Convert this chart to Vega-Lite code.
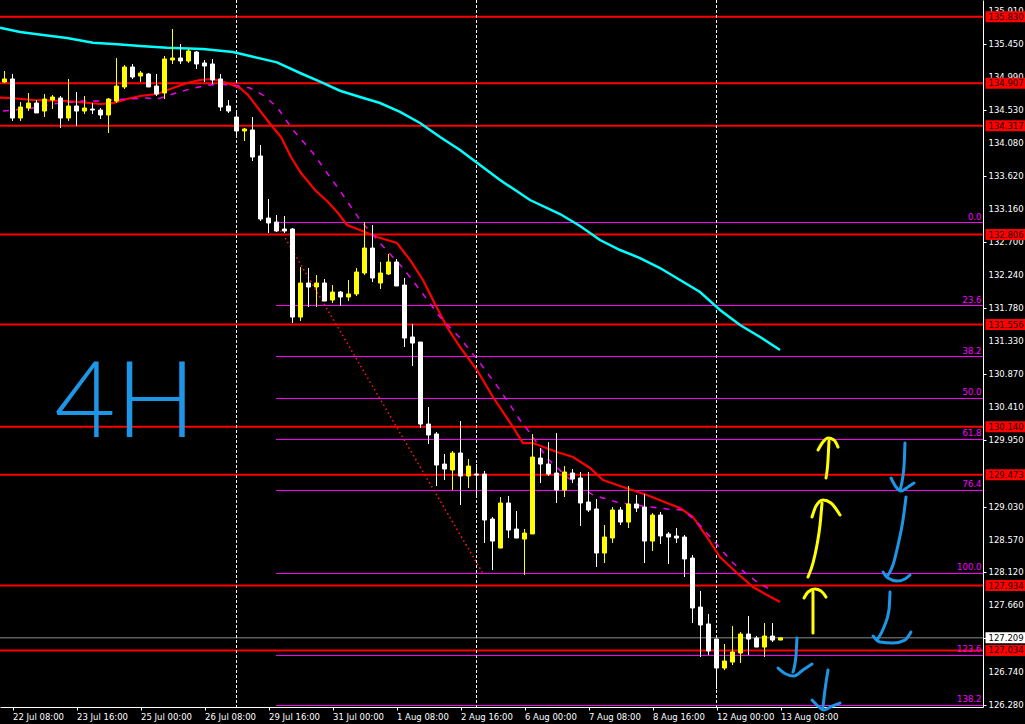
{
  "$schema": "https://vega.github.io/schema/vega-lite/v6.json",
  "width": 983,
  "height": 707,
  "autosize": {"type": "none"},
  "padding": {"left": 0, "top": 0, "right": 42, "bottom": 17},
  "background": "#000000",
  "config": {
    "view": {"stroke": null},
    "scale": {"continuousPadding": 0},
    "axis": {"grid": false, "domainColor": "#ffffff", "tickColor": "#ffffff", "labelColor": "#ffffff", "labelFont": "DejaVu Sans", "labelFontSize": 8.5, "tickSize": 3, "labelPadding": 2, "labelOverlap": false}
  },
  "datasets": {
    "candles": [
      {"k":0,"o":134.923,"h":135.076,"l":134.909,"c":134.965},
      {"k":1,"o":134.965,"h":135.034,"l":134.382,"c":134.423},
      {"k":2,"o":134.423,"h":134.645,"l":134.382,"c":134.576},
      {"k":3,"o":134.562,"h":134.770,"l":134.520,"c":134.631},
      {"k":4,"o":134.631,"h":134.673,"l":134.493,"c":134.493},
      {"k":5,"o":134.520,"h":134.756,"l":134.437,"c":134.687},
      {"k":6,"o":134.673,"h":134.742,"l":134.548,"c":134.715},
      {"k":7,"o":134.701,"h":134.729,"l":134.284,"c":134.423},
      {"k":8,"o":134.423,"h":134.965,"l":134.382,"c":134.590},
      {"k":9,"o":134.590,"h":134.784,"l":134.312,"c":134.520},
      {"k":10,"o":134.520,"h":134.729,"l":134.479,"c":134.562},
      {"k":11,"o":134.548,"h":134.631,"l":134.479,"c":134.534},
      {"k":12,"o":134.534,"h":134.562,"l":134.409,"c":134.465},
      {"k":13,"o":134.465,"h":134.701,"l":134.215,"c":134.687},
      {"k":14,"o":134.659,"h":135.256,"l":134.631,"c":134.867},
      {"k":15,"o":134.854,"h":135.159,"l":134.826,"c":135.131},
      {"k":16,"o":135.131,"h":135.173,"l":134.965,"c":134.992},
      {"k":17,"o":135.006,"h":135.076,"l":134.923,"c":135.048},
      {"k":18,"o":135.034,"h":135.048,"l":134.854,"c":134.854},
      {"k":19,"o":134.867,"h":135.034,"l":134.729,"c":134.756},
      {"k":20,"o":134.770,"h":135.284,"l":134.687,"c":135.242},
      {"k":21,"o":135.228,"h":135.659,"l":135.173,"c":135.256},
      {"k":22,"o":135.256,"h":135.450,"l":135.173,"c":135.214},
      {"k":23,"o":135.214,"h":135.381,"l":135.187,"c":135.353},
      {"k":24,"o":135.339,"h":135.353,"l":135.103,"c":135.173},
      {"k":25,"o":135.187,"h":135.228,"l":134.923,"c":135.145},
      {"k":26,"o":135.173,"h":135.242,"l":134.895,"c":134.951},
      {"k":27,"o":134.965,"h":135.034,"l":134.520,"c":134.576},
      {"k":28,"o":134.590,"h":134.673,"l":134.493,"c":134.520},
      {"k":29,"o":134.437,"h":134.534,"l":134.160,"c":134.243},
      {"k":30,"o":134.243,"h":134.284,"l":134.104,"c":134.271},
      {"k":31,"o":134.257,"h":134.437,"l":133.826,"c":133.882},
      {"k":32,"o":133.896,"h":134.049,"l":132.994,"c":133.021},
      {"k":33,"o":133.035,"h":133.299,"l":132.827,"c":132.966},
      {"k":34,"o":132.980,"h":133.077,"l":132.841,"c":132.855},
      {"k":35,"o":132.883,"h":133.063,"l":132.827,"c":132.855},
      {"k":36,"o":132.883,"h":132.897,"l":131.578,"c":131.661},
      {"k":37,"o":131.661,"h":132.355,"l":131.606,"c":132.133},
      {"k":38,"o":132.133,"h":132.341,"l":131.800,"c":132.078},
      {"k":39,"o":132.078,"h":132.244,"l":131.800,"c":132.133},
      {"k":40,"o":132.133,"h":132.189,"l":131.883,"c":131.883},
      {"k":41,"o":131.897,"h":132.105,"l":131.856,"c":132.008},
      {"k":42,"o":132.008,"h":132.022,"l":131.814,"c":131.939},
      {"k":43,"o":131.939,"h":132.175,"l":131.883,"c":131.981},
      {"k":44,"o":131.981,"h":132.341,"l":131.953,"c":132.286},
      {"k":45,"o":132.272,"h":132.980,"l":132.244,"c":132.619},
      {"k":46,"o":132.619,"h":132.938,"l":132.147,"c":132.203},
      {"k":47,"o":132.133,"h":132.425,"l":132.050,"c":132.272},
      {"k":48,"o":132.258,"h":132.536,"l":132.244,"c":132.425},
      {"k":49,"o":132.425,"h":132.466,"l":132.092,"c":132.092},
      {"k":50,"o":132.105,"h":132.203,"l":131.245,"c":131.370},
      {"k":51,"o":131.384,"h":131.564,"l":130.981,"c":131.300},
      {"k":52,"o":131.314,"h":131.314,"l":130.121,"c":130.176},
      {"k":53,"o":130.176,"h":130.412,"l":129.899,"c":130.024},
      {"k":54,"o":130.038,"h":130.065,"l":129.316,"c":129.607},
      {"k":55,"o":129.621,"h":129.760,"l":129.399,"c":129.552},
      {"k":56,"o":129.538,"h":129.802,"l":129.260,"c":129.774},
      {"k":57,"o":129.774,"h":130.218,"l":129.052,"c":129.455},
      {"k":58,"o":129.455,"h":129.691,"l":129.288,"c":129.593},
      {"k":59,"o":129.482,"h":129.621,"l":129.163,"c":129.468},
      {"k":60,"o":129.482,"h":129.525,"l":128.525,"c":128.844},
      {"k":61,"o":128.858,"h":128.886,"l":128.150,"c":128.552},
      {"k":62,"o":128.455,"h":129.163,"l":128.455,"c":129.080},
      {"k":63,"o":129.080,"h":129.177,"l":128.594,"c":128.705},
      {"k":64,"o":128.719,"h":128.969,"l":128.594,"c":128.594},
      {"k":65,"o":128.580,"h":128.719,"l":128.081,"c":128.663},
      {"k":66,"o":128.650,"h":130.038,"l":128.650,"c":129.718},
      {"k":67,"o":129.704,"h":129.843,"l":129.357,"c":129.621},
      {"k":68,"o":129.621,"h":129.926,"l":129.455,"c":129.482},
      {"k":69,"o":129.496,"h":130.051,"l":129.080,"c":129.260},
      {"k":70,"o":129.260,"h":129.593,"l":129.163,"c":129.510},
      {"k":71,"o":129.496,"h":129.552,"l":129.357,"c":129.413},
      {"k":72,"o":129.427,"h":129.510,"l":128.761,"c":129.080},
      {"k":73,"o":129.094,"h":129.510,"l":128.955,"c":128.983},
      {"k":74,"o":128.997,"h":129.135,"l":128.192,"c":128.386},
      {"k":75,"o":128.386,"h":128.775,"l":128.247,"c":128.608},
      {"k":76,"o":128.594,"h":129.024,"l":128.525,"c":128.983},
      {"k":77,"o":128.983,"h":129.024,"l":128.775,"c":128.816},
      {"k":78,"o":128.816,"h":129.316,"l":128.733,"c":129.066},
      {"k":79,"o":129.066,"h":129.191,"l":128.955,"c":129.010},
      {"k":80,"o":129.024,"h":129.205,"l":128.247,"c":128.552},
      {"k":81,"o":128.552,"h":128.941,"l":128.414,"c":128.913},
      {"k":82,"o":128.913,"h":128.955,"l":128.511,"c":128.622},
      {"k":83,"o":128.650,"h":128.677,"l":128.233,"c":128.608},
      {"k":84,"o":128.622,"h":128.733,"l":128.525,"c":128.594},
      {"k":85,"o":128.608,"h":128.636,"l":128.053,"c":128.303},
      {"k":86,"o":128.316,"h":128.358,"l":127.414,"c":127.623},
      {"k":87,"o":127.636,"h":127.859,"l":126.943,"c":127.387},
      {"k":88,"o":127.401,"h":127.539,"l":126.970,"c":127.026},
      {"k":89,"o":127.192,"h":127.192,"l":126.498,"c":126.790},
      {"k":90,"o":126.790,"h":127.123,"l":126.762,"c":126.887},
      {"k":91,"o":126.873,"h":127.373,"l":126.831,"c":127.012},
      {"k":92,"o":126.998,"h":127.289,"l":126.859,"c":127.262},
      {"k":93,"o":127.262,"h":127.512,"l":126.970,"c":127.192},
      {"k":94,"o":127.206,"h":127.234,"l":127.081,"c":127.081},
      {"k":95,"o":127.081,"h":127.414,"l":126.943,"c":127.234},
      {"k":96,"o":127.234,"h":127.414,"l":127.151,"c":127.178},
      {"k":97,"o":127.178,"h":127.209,"l":127.178,"c":127.209}
    ],
    "ma": [
      {"s":"c","k":-0.56,"p":135.677},{"s":"c","k":1.94,"p":135.617},{"s":"c","k":4.81,"p":135.575},{"s":"c","k":7.81,"p":135.534},{"s":"c","k":11.06,"p":135.468},{"s":"c","k":14.06,"p":135.446},{"s":"c","k":16.94,"p":135.423},{"s":"c","k":20.31,"p":135.399},{"s":"c","k":24.81,"p":135.381},{"s":"c","k":28.56,"p":135.339},{"s":"c","k":31.06,"p":135.274},{"s":"c","k":34.06,"p":135.196},{"s":"c","k":36.94,"p":135.048},{"s":"c","k":39.44,"p":134.927},{"s":"c","k":41.94,"p":134.802},{"s":"c","k":44.44,"p":134.715},{"s":"c","k":46.94,"p":134.631},{"s":"c","k":49.44,"p":134.507},{"s":"c","k":51.94,"p":134.354},{"s":"c","k":54.44,"p":134.160},{"s":"c","k":56.94,"p":133.979},{"s":"c","k":59.44,"p":133.771},{"s":"c","k":61.94,"p":133.563},{"s":"c","k":65.69,"p":133.285},{"s":"c","k":69.44,"p":133.091},{"s":"c","k":71.94,"p":132.924},{"s":"c","k":74.44,"p":132.730},{"s":"c","k":76.94,"p":132.591},{"s":"c","k":79.44,"p":132.480},{"s":"c","k":81.94,"p":132.341},{"s":"c","k":84.44,"p":132.175},{"s":"c","k":86.94,"p":132.008},{"s":"c","k":89.44,"p":131.759},{"s":"c","k":91.94,"p":131.550},{"s":"c","k":94.44,"p":131.384},{"s":"c","k":96.94,"p":131.203},
      {"s":"r","k":-0.56,"p":134.705},{"s":"r","k":0.69,"p":134.701},{"s":"r","k":3.56,"p":134.673},{"s":"r","k":7.81,"p":134.659},{"s":"r","k":11.94,"p":134.618},{"s":"r","k":13.56,"p":134.631},{"s":"r","k":15.31,"p":134.687},{"s":"r","k":16.94,"p":134.729},{"s":"r","k":19.06,"p":134.756},{"s":"r","k":21.06,"p":134.840},{"s":"r","k":22.81,"p":134.909},{"s":"r","k":24.44,"p":134.951},{"s":"r","k":26.06,"p":134.965},{"s":"r","k":27.81,"p":134.909},{"s":"r","k":29.44,"p":134.840},{"s":"r","k":30.44,"p":134.742},{"s":"r","k":32.06,"p":134.507},{"s":"r","k":33.31,"p":134.326},{"s":"r","k":34.56,"p":134.160},{"s":"r","k":35.81,"p":133.882},{"s":"r","k":37.06,"p":133.660},{"s":"r","k":38.81,"p":133.424},{"s":"r","k":40.44,"p":133.257},{"s":"r","k":41.69,"p":133.105},{"s":"r","k":42.81,"p":132.938},{"s":"r","k":44.44,"p":132.869},{"s":"r","k":46.56,"p":132.772},{"s":"r","k":49.06,"p":132.688},{"s":"r","k":50.69,"p":132.453},{"s":"r","k":52.31,"p":132.175},{"s":"r","k":53.56,"p":131.897},{"s":"r","k":55.31,"p":131.523},{"s":"r","k":56.94,"p":131.245},{"s":"r","k":59.06,"p":130.926},{"s":"r","k":61.06,"p":130.551},{"s":"r","k":63.56,"p":130.135},{"s":"r","k":64.81,"p":129.912},{"s":"r","k":66.06,"p":129.912},{"s":"r","k":69.06,"p":129.788},{"s":"r","k":71.06,"p":129.718},{"s":"r","k":73.19,"p":129.566},{"s":"r","k":74.81,"p":129.399},{"s":"r","k":77.31,"p":129.302},{"s":"r","k":80.31,"p":129.191},{"s":"r","k":82.81,"p":129.080},{"s":"r","k":84.44,"p":129.010},{"s":"r","k":86.06,"p":128.886},{"s":"r","k":87.81,"p":128.608},{"s":"r","k":89.44,"p":128.330},{"s":"r","k":91.56,"p":128.108},{"s":"r","k":93.56,"p":127.914},{"s":"r","k":95.31,"p":127.803},{"s":"r","k":96.94,"p":127.706},
      {"s":"m","k":-0.19,"p":134.520},{"s":"m","k":3.56,"p":134.562},{"s":"m","k":6.06,"p":134.618},{"s":"m","k":9.81,"p":134.659},{"s":"m","k":11.94,"p":134.659},{"s":"m","k":15.31,"p":134.687},{"s":"m","k":17.81,"p":134.701},{"s":"m","k":19.06,"p":134.687},{"s":"m","k":21.06,"p":134.756},{"s":"m","k":23.19,"p":134.826},{"s":"m","k":24.81,"p":134.867},{"s":"m","k":26.56,"p":134.895},{"s":"m","k":28.56,"p":134.881},{"s":"m","k":30.69,"p":134.840},{"s":"m","k":32.31,"p":134.742},{"s":"m","k":34.06,"p":134.576},{"s":"m","k":36.06,"p":134.257},{"s":"m","k":38.56,"p":133.937},{"s":"m","k":40.69,"p":133.604},{"s":"m","k":41.69,"p":133.452},{"s":"m","k":44.44,"p":133.008},{"s":"m","k":46.94,"p":132.688},{"s":"m","k":49.81,"p":132.341},{"s":"m","k":51.94,"p":132.036},{"s":"m","k":54.44,"p":131.661},{"s":"m","k":56.94,"p":131.370},{"s":"m","k":59.44,"p":131.023},{"s":"m","k":61.94,"p":130.648},{"s":"m","k":64.44,"p":130.232},{"s":"m","k":65.69,"p":130.051},{"s":"m","k":67.81,"p":129.704},{"s":"m","k":70.31,"p":129.441},{"s":"m","k":73.56,"p":129.191},{"s":"m","k":76.94,"p":129.080},{"s":"m","k":82.81,"p":128.997},{"s":"m","k":84.81,"p":128.983},{"s":"m","k":86.56,"p":128.816},{"s":"m","k":88.56,"p":128.566},{"s":"m","k":91.06,"p":128.247},{"s":"m","k":94.06,"p":127.983},{"s":"m","k":96.06,"p":127.859}
    ],
    "levels": [
      {"p":135.830},{"p":134.907},{"p":134.317},{"p":132.806},{"p":131.556},{"p":130.140},{"p":129.473},{"p":127.934},{"p":127.034}
    ],
    "yticks": [
      {"p":135.91},{"p":135.45},{"p":134.99},{"p":134.53},{"p":134.08},{"p":133.62},{"p":133.16},{"p":132.70},{"p":132.24},{"p":131.78},{"p":131.33},{"p":130.87},{"p":130.41},{"p":129.95},{"p":129.03},{"p":128.57},{"p":128.12},{"p":127.66},{"p":126.74},{"p":126.28}
    ],
    "fib": [
      {"t":"0.0","p":132.973,"k0":33.94},{"t":"23.6","p":131.821,"k0":33.94},{"t":"38.2","p":131.113,"k0":33.94},{"t":"50.0","p":130.531,"k0":33.94},{"t":"61.8","p":129.962,"k0":33.94},{"t":"76.4","p":129.254,"k0":33.94},{"t":"100.0","p":128.102,"k0":33.94},{"t":"123.6","p":126.964,"k0":33.94},{"t":"138.2","p":126.270,"k0":33.94}
    ],
    "trend": [{"k":33.94,"p":132.973},{"k":59.81,"p":128.102}],
    "seps": [{"k":29},{"k":59},{"k":89}],
    "bid": [{"p":127.209}],
    "draw": [
      {"g":"y1a","ink":"yellow","i":0,"k":102.69,"p":129.427},{"g":"y1a","ink":"yellow","i":1,"k":102.94,"p":129.677},{"g":"y1a","ink":"yellow","i":2,"k":103.06,"p":129.940},
      {"g":"y1b","ink":"yellow","i":0,"k":101.69,"p":129.815},{"g":"y1b","ink":"yellow","i":1,"k":102.31,"p":129.926},{"g":"y1b","ink":"yellow","i":2,"k":102.94,"p":129.982},{"g":"y1b","ink":"yellow","i":3,"k":103.69,"p":129.954},{"g":"y1b","ink":"yellow","i":4,"k":104.19,"p":129.857},
      {"g":"y2a","ink":"yellow","i":0,"k":100.44,"p":128.053},{"g":"y2a","ink":"yellow","i":1,"k":101.06,"p":128.247},{"g":"y2a","ink":"yellow","i":2,"k":101.56,"p":128.497},{"g":"y2a","ink":"yellow","i":3,"k":101.94,"p":128.775},{"g":"y2a","ink":"yellow","i":4,"k":102.19,"p":129.080},
      {"g":"y2b","ink":"yellow","i":0,"k":100.94,"p":128.886},{"g":"y2b","ink":"yellow","i":1,"k":101.44,"p":129.038},{"g":"y2b","ink":"yellow","i":2,"k":102.31,"p":129.122},{"g":"y2b","ink":"yellow","i":3,"k":103.31,"p":129.080},{"g":"y2b","ink":"yellow","i":4,"k":104.44,"p":128.913},
      {"g":"y3a","ink":"yellow","i":0,"k":101.06,"p":127.845},{"g":"y3a","ink":"yellow","i":1,"k":101.06,"p":127.567},{"g":"y3a","ink":"yellow","i":2,"k":101.06,"p":127.276},
      {"g":"y3b","ink":"yellow","i":0,"k":99.94,"p":127.761},{"g":"y3b","ink":"yellow","i":1,"k":100.44,"p":127.845},{"g":"y3b","ink":"yellow","i":2,"k":101.31,"p":127.886},{"g":"y3b","ink":"yellow","i":3,"k":102.06,"p":127.859},{"g":"y3b","ink":"yellow","i":4,"k":102.69,"p":127.775},
      {"g":"b1a","ink":"blue","i":0,"k":112.56,"p":129.913},{"g":"b1a","ink":"blue","i":1,"k":112.44,"p":129.593},{"g":"b1a","ink":"blue","i":2,"k":111.94,"p":129.260},
      {"g":"b1b","ink":"blue","i":0,"k":110.81,"p":129.427},{"g":"b1b","ink":"blue","i":1,"k":111.44,"p":129.302},{"g":"b1b","ink":"blue","i":2,"k":112.06,"p":129.246},{"g":"b1b","ink":"blue","i":3,"k":112.94,"p":129.302},{"g":"b1b","ink":"blue","i":4,"k":113.69,"p":129.357},
      {"g":"b2a","ink":"blue","i":0,"k":112.69,"p":129.163},{"g":"b2a","ink":"blue","i":1,"k":112.31,"p":128.844},{"g":"b2a","ink":"blue","i":2,"k":111.69,"p":128.497},{"g":"b2a","ink":"blue","i":3,"k":111.06,"p":128.219},{"g":"b2a","ink":"blue","i":4,"k":110.31,"p":128.053},
      {"g":"b2b","ink":"blue","i":0,"k":109.81,"p":128.122},{"g":"b2b","ink":"blue","i":1,"k":110.44,"p":128.039},{"g":"b2b","ink":"blue","i":2,"k":111.56,"p":127.997},{"g":"b2b","ink":"blue","i":3,"k":112.56,"p":128.025},{"g":"b2b","ink":"blue","i":4,"k":113.19,"p":128.081},
      {"g":"b3a","ink":"blue","i":0,"k":110.69,"p":127.845},{"g":"b3a","ink":"blue","i":1,"k":110.56,"p":127.595},{"g":"b3a","ink":"blue","i":2,"k":109.94,"p":127.359},{"g":"b3a","ink":"blue","i":3,"k":109.06,"p":127.178},
      {"g":"b3b","ink":"blue","i":0,"k":108.56,"p":127.234},{"g":"b3b","ink":"blue","i":1,"k":109.44,"p":127.151},{"g":"b3b","ink":"blue","i":2,"k":111.06,"p":127.137},{"g":"b3b","ink":"blue","i":3,"k":112.56,"p":127.178},{"g":"b3b","ink":"blue","i":4,"k":113.31,"p":127.289},
      {"g":"b4a","ink":"blue","i":0,"k":99.06,"p":127.206},{"g":"b4a","ink":"blue","i":1,"k":98.94,"p":126.970},{"g":"b4a","ink":"blue","i":2,"k":98.56,"p":126.734},
      {"g":"b4b","ink":"blue","i":0,"k":96.69,"p":126.790},{"g":"b4b","ink":"blue","i":1,"k":97.69,"p":126.707},{"g":"b4b","ink":"blue","i":2,"k":98.69,"p":126.679},{"g":"b4b","ink":"blue","i":3,"k":99.81,"p":126.762},{"g":"b4b","ink":"blue","i":4,"k":100.94,"p":126.845},
      {"g":"b5a","ink":"blue","i":0,"k":102.94,"p":126.762},{"g":"b5a","ink":"blue","i":1,"k":102.56,"p":126.485},{"g":"b5a","ink":"blue","i":2,"k":102.31,"p":126.249},
      {"g":"b5b","ink":"blue","i":0,"k":100.94,"p":126.346},{"g":"b5b","ink":"blue","i":1,"k":101.69,"p":126.262},{"g":"b5b","ink":"blue","i":2,"k":102.44,"p":126.207},{"g":"b5b","ink":"blue","i":3,"k":103.44,"p":126.262},{"g":"b5b","ink":"blue","i":4,"k":104.44,"p":126.304}
    ],
    "note": [{"t":"4H","k":15.06,"p":130.44}]
  },
  "layer": [
    {
      "data": {"name": "fib"},
      "mark": {"type": "rule", "color": "#ff00ff", "strokeWidth": 1},
      "encoding": {
        "x": {"field": "k0", "type": "quantitative", "scale": {"domain": [-0.5625, 122.3125], "nice": false, "zero": false},
              "axis": {"orient": "bottom", "title": null, "values": [1,9,17,25,33,41,49,57,65,73,81,89,97],
                       "labelExpr": "['22 Jul 08:00','23 Jul 16:00','25 Jul 00:00','26 Jul 08:00','29 Jul 16:00','31 Jul 00:00','1 Aug 08:00','2 Aug 16:00','6 Aug 00:00','7 Aug 08:00','8 Aug 16:00','12 Aug 00:00','13 Aug 08:00'][round((datum.value-1)/8)]",
                       "labelAlign": "left", "labelBaseline": "top", "labelOverlap": false, "labelFlush": false}},
        "x2": {"datum": 122.3125},
        "y": {"field": "p", "type": "quantitative", "scale": {"domain": [126.249, 136.061], "nice": false, "zero": false},
              "axis": {"orient": "right", "title": null, "values": [135.91,135.45,134.99,134.53,134.08,133.62,133.16,132.70,132.24,131.78,131.33,130.87,130.41,129.95,129.49,129.03,128.57,128.12,127.66,127.20,126.74,126.28],
                       "labels": false}}
      }
    },
    {
      "data": {"name": "yticks"},
      "mark": {"type": "text", "color": "#ffffff", "font": "DejaVu Sans", "fontSize": 8.5, "align": "left", "baseline": "middle"},
      "encoding": {
        "x": {"datum": 123.0, "type": "quantitative", "title": null, "scale": {"domain": [-0.5625, 122.3125], "nice": false, "zero": false}},
        "y": {"field": "p", "type": "quantitative", "title": null, "scale": {"domain": [126.249, 136.061], "nice": false, "zero": false}},
        "text": {"field": "p", "type": "quantitative", "format": ".3f"}
      }
    },
    {
      "data": {"name": "trend"},
      "mark": {"type": "line", "color": "#ff1a1a", "strokeWidth": 1.5, "strokeDash": [1.5, 3]},
      "encoding": {
        "x": {"field": "k", "type": "quantitative", "title": null, "scale": {"domain": [-0.5625, 122.3125], "nice": false, "zero": false}},
        "y": {"field": "p", "type": "quantitative", "title": null, "scale": {"domain": [126.249, 136.061], "nice": false, "zero": false}}
      }
    },
    {
      "data": {"name": "levels"},
      "mark": {"type": "rule", "color": "#ff0000", "strokeWidth": 2},
      "encoding": {"y": {"field": "p", "type": "quantitative", "title": null, "scale": {"domain": [126.249, 136.061], "nice": false, "zero": false}}}
    },
    {
      "data": {"name": "bid"},
      "mark": {"type": "rule", "color": "#8c8c8c", "strokeWidth": 1},
      "encoding": {"y": {"field": "p", "type": "quantitative", "title": null, "scale": {"domain": [126.249, 136.061], "nice": false, "zero": false}}}
    },
    {
      "data": {"name": "seps"},
      "mark": {"type": "rule", "color": "#ffffff", "strokeWidth": 1, "strokeDash": [3, 2]},
      "encoding": {"x": {"field": "k", "type": "quantitative", "title": null, "scale": {"domain": [-0.5625, 122.3125], "nice": false, "zero": false}}}
    },
    {
      "data": {"name": "ma"},
      "transform": [{"filter": "datum.s == 'c'"}],
      "mark": {"type": "line", "color": "#00ffff", "strokeWidth": 2.5},
      "encoding": {
        "x": {"field": "k", "type": "quantitative", "title": null, "scale": {"domain": [-0.5625, 122.3125], "nice": false, "zero": false}},
        "y": {"field": "p", "type": "quantitative", "title": null, "scale": {"domain": [126.249, 136.061], "nice": false, "zero": false}}
      }
    },
    {
      "data": {"name": "ma"},
      "transform": [{"filter": "datum.s == 'r'"}],
      "mark": {"type": "line", "color": "#ff0000", "strokeWidth": 2.2},
      "encoding": {
        "x": {"field": "k", "type": "quantitative", "title": null, "scale": {"domain": [-0.5625, 122.3125], "nice": false, "zero": false}},
        "y": {"field": "p", "type": "quantitative", "title": null, "scale": {"domain": [126.249, 136.061], "nice": false, "zero": false}}
      }
    },
    {
      "data": {"name": "ma"},
      "transform": [{"filter": "datum.s == 'm'"}],
      "mark": {"type": "line", "color": "#ee00ee", "strokeWidth": 1.5, "strokeDash": [6, 7]},
      "encoding": {
        "x": {"field": "k", "type": "quantitative", "title": null, "scale": {"domain": [-0.5625, 122.3125], "nice": false, "zero": false}},
        "y": {"field": "p", "type": "quantitative", "title": null, "scale": {"domain": [126.249, 136.061], "nice": false, "zero": false}}
      }
    },
    {
      "data": {"name": "candles"},
      "mark": {"type": "rule", "strokeWidth": 1},
      "encoding": {
        "x": {"field": "k", "type": "quantitative", "title": null, "scale": {"domain": [-0.5625, 122.3125], "nice": false, "zero": false}},
        "y": {"field": "h", "type": "quantitative", "title": null, "scale": {"domain": [126.249, 136.061], "nice": false, "zero": false}},
        "y2": {"field": "l"},
        "color": {"condition": {"test": "datum.c > datum.o", "value": "#ffff00"}, "value": "#ffffff"}
      }
    },
    {
      "data": {"name": "candles"},
      "mark": {"type": "bar", "size": 4, "strokeWidth": 1},
      "encoding": {
        "x": {"field": "k", "type": "quantitative", "title": null, "scale": {"domain": [-0.5625, 122.3125], "nice": false, "zero": false}},
        "y": {"field": "o", "type": "quantitative", "title": null, "scale": {"domain": [126.249, 136.061], "nice": false, "zero": false}},
        "y2": {"field": "c"},
        "fill": {"condition": {"test": "datum.c > datum.o", "value": "#ffff00"}, "value": "#ffffff"},
        "stroke": {"condition": {"test": "datum.c > datum.o", "value": "#ffff00"}, "value": "#ffffff"}
      }
    },
    {
      "data": {"name": "fib"},
      "mark": {"type": "text", "color": "#ff00ff", "font": "DejaVu Sans", "fontSize": 8.5, "align": "right", "baseline": "bottom", "dy": -1},
      "encoding": {
        "x": {"datum": 122.12, "type": "quantitative", "title": null, "scale": {"domain": [-0.5625, 122.3125], "nice": false, "zero": false}},
        "y": {"field": "p", "type": "quantitative", "title": null, "scale": {"domain": [126.249, 136.061], "nice": false, "zero": false}},
        "text": {"field": "t"}
      }
    },
    {
      "data": {"name": "levels"},
      "mark": {"type": "bar", "orient": "horizontal", "size": 11, "color": "#ff0000"},
      "encoding": {
        "x": {"datum": 122.625, "type": "quantitative", "title": null, "scale": {"domain": [-0.5625, 122.3125], "nice": false, "zero": false}},
        "x2": {"datum": 128.5},
        "y": {"field": "p", "type": "quantitative", "title": null, "scale": {"domain": [126.249, 136.061], "nice": false, "zero": false}}
      }
    },
    {
      "data": {"name": "levels"},
      "mark": {"type": "text", "color": "#200000", "font": "DejaVu Sans", "fontSize": 8.5, "align": "left", "baseline": "middle"},
      "encoding": {
        "x": {"datum": 123.0, "type": "quantitative", "title": null, "scale": {"domain": [-0.5625, 122.3125], "nice": false, "zero": false}},
        "y": {"field": "p", "type": "quantitative", "title": null, "scale": {"domain": [126.249, 136.061], "nice": false, "zero": false}},
        "text": {"field": "p", "type": "quantitative", "format": ".3f"}
      }
    },
    {
      "data": {"name": "bid"},
      "mark": {"type": "bar", "orient": "horizontal", "size": 11, "color": "#ffffff"},
      "encoding": {
        "x": {"datum": 122.625, "type": "quantitative", "title": null, "scale": {"domain": [-0.5625, 122.3125], "nice": false, "zero": false}},
        "x2": {"datum": 128.5},
        "y": {"field": "p", "type": "quantitative", "title": null, "scale": {"domain": [126.249, 136.061], "nice": false, "zero": false}}
      }
    },
    {
      "data": {"name": "bid"},
      "mark": {"type": "text", "color": "#000000", "font": "DejaVu Sans", "fontSize": 8.5, "align": "left", "baseline": "middle"},
      "encoding": {
        "x": {"datum": 123.0, "type": "quantitative", "title": null, "scale": {"domain": [-0.5625, 122.3125], "nice": false, "zero": false}},
        "y": {"field": "p", "type": "quantitative", "title": null, "scale": {"domain": [126.249, 136.061], "nice": false, "zero": false}},
        "text": {"field": "p", "type": "quantitative", "format": ".3f"}
      }
    },
    {
      "data": {"name": "draw"},
      "mark": {"type": "line", "strokeWidth": 3, "strokeCap": "round", "strokeJoin": "round", "interpolate": "monotone"},
      "encoding": {
        "x": {"field": "k", "type": "quantitative", "title": null, "scale": {"domain": [-0.5625, 122.3125], "nice": false, "zero": false}},
        "y": {"field": "p", "type": "quantitative", "title": null, "scale": {"domain": [126.249, 136.061], "nice": false, "zero": false}},
        "detail": {"field": "g"},
        "order": {"field": "i"},
        "color": {"field": "ink", "type": "nominal", "scale": {"domain": ["yellow", "blue"], "range": ["#ffff00", "#1e96e6"]}, "legend": null}
      }
    },
    {
      "data": {"name": "note"},
      "mark": {"type": "text", "color": "#1e96e6", "font": "Lato", "fontWeight": 300, "fontSize": 106, "align": "center", "baseline": "middle"},
      "encoding": {
        "x": {"field": "k", "type": "quantitative", "title": null, "scale": {"domain": [-0.5625, 122.3125], "nice": false, "zero": false}},
        "y": {"field": "p", "type": "quantitative", "title": null, "scale": {"domain": [126.249, 136.061], "nice": false, "zero": false}},
        "text": {"field": "t"}
      }
    }
  ]
}
